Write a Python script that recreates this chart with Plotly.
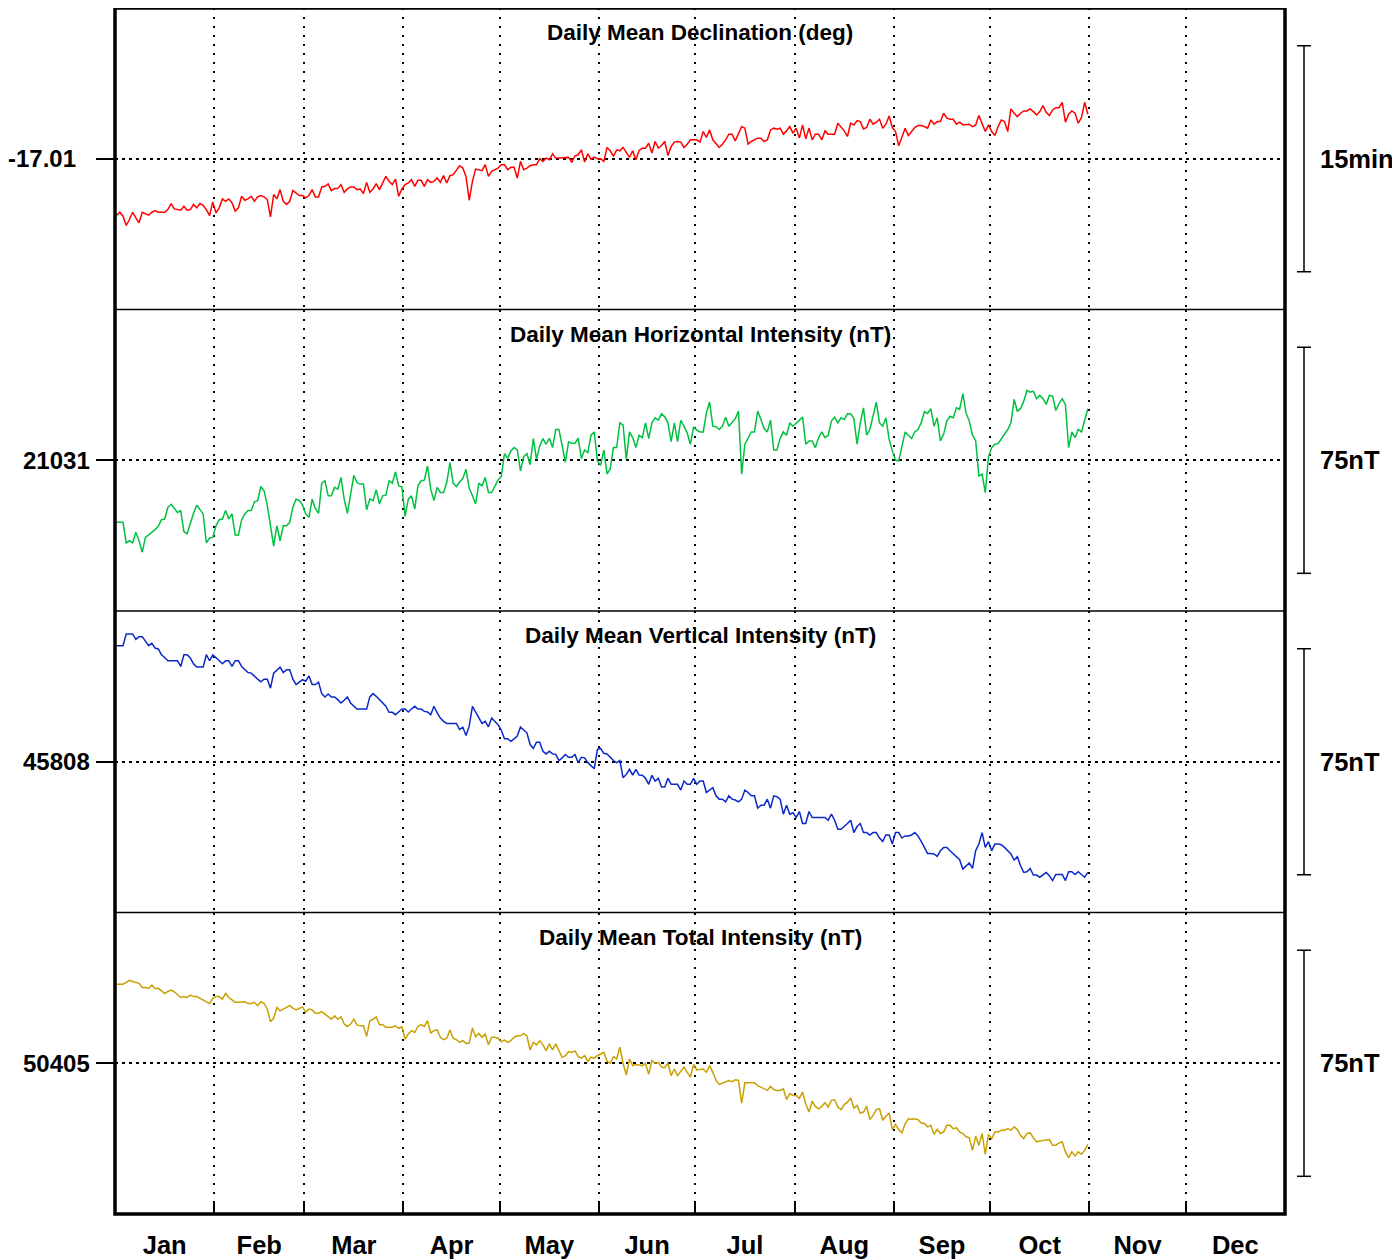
import pandas as pd
import plotly.graph_objects as go
from plotly.subplots import make_subplots

# ---------------- data (daily means, Jan 1 .. Oct 31) ----------------
D_VALUES = [
    -17.0728, -17.0691, -17.0735, -17.0838, -17.0772, -17.0691, -17.0753, -17.0808, -17.0691, -17.0706,
    -17.0724, -17.0691, -17.0673, -17.0691, -17.0691, -17.0691, -17.0662, -17.0595, -17.0654, -17.0662,
    -17.0669, -17.0625, -17.0669, -17.0662, -17.0606, -17.0643, -17.0595, -17.0614, -17.0662, -17.0728,
    -17.0577, -17.0698, -17.0643, -17.0544, -17.0570, -17.0544, -17.0588, -17.0680, -17.0643, -17.0515,
    -17.0559, -17.0544, -17.0515, -17.0570, -17.0522, -17.0507, -17.0522, -17.0551, -17.0742, -17.0496,
    -17.0544, -17.0441, -17.0570, -17.0606, -17.0570, -17.0452, -17.0478, -17.0507, -17.0507, -17.0533,
    -17.0507, -17.0441, -17.0522, -17.0522, -17.0412, -17.0405, -17.0379, -17.0452, -17.0430, -17.0430,
    -17.0386, -17.0471, -17.0434, -17.0412, -17.0412, -17.0441, -17.0434, -17.0485, -17.0361, -17.0471,
    -17.0434, -17.0375, -17.0441, -17.0368, -17.0295, -17.0350, -17.0386, -17.0324, -17.0515, -17.0434,
    -17.0386, -17.0368, -17.0331, -17.0405, -17.0339, -17.0339, -17.0405, -17.0331, -17.0361, -17.0350,
    -17.0313, -17.0361, -17.0287, -17.0368, -17.0287, -17.0276, -17.0221, -17.0177, -17.0203, -17.0295,
    -17.0559, -17.0350, -17.0214, -17.0221, -17.0232, -17.0166, -17.0295, -17.0239, -17.0221, -17.0203,
    -17.0166, -17.0166, -17.0221, -17.0195, -17.0195, -17.0313, -17.0129, -17.0221, -17.0203, -17.0177,
    -17.0166, -17.0166, -17.0100, -17.0129, -17.0093, -17.0111, -17.0045, -17.0093, -17.0093, -17.0093,
    -17.0093, -17.0085, -17.0140, -17.0067, -17.0056, -17.0001, -17.0137, -17.0045, -17.0104, -17.0082,
    -17.0100,
    -17.0100, -17.0129, -16.9975, -17.0012, -17.0074, -17.0001, -17.0012, -16.9975, -17.0038, -17.0085,
    -17.0012, -17.0111, -17.0008, -16.9983, -16.9983, -16.9928, -17.0038, -16.9909, -16.9983, -16.9953,
    -16.9909, -17.0063, -16.9964, -16.9916, -16.9909, -16.9916, -16.9975, -16.9939, -16.9891, -16.9891,
    -16.9891, -16.9916, -16.9799, -16.9865, -16.9781, -16.9891, -16.9939, -16.9975, -16.9939, -16.9891,
    -16.9828, -16.9828, -16.9902, -16.9828, -16.9744, -16.9762, -16.9939, -16.9909, -16.9891, -16.9872,
    -16.9872, -16.9909, -16.9891, -16.9781, -16.9762, -16.9773, -16.9762, -16.9828, -16.9792, -16.9744,
    -16.9817, -16.9762, -16.9872, -16.9726, -16.9880, -16.9762, -16.9891, -16.9828, -16.9828, -16.9891,
    -16.9792, -16.9828, -16.9828, -16.9828, -16.9707, -16.9744, -16.9792, -16.9854, -16.9707, -16.9726,
    -16.9678, -16.9689, -16.9770, -16.9755, -16.9663, -16.9718, -16.9696, -16.9663, -16.9762, -16.9718,
    -16.9627, -16.9755, -16.9799, -16.9957, -16.9865, -16.9762, -16.9843, -16.9799, -16.9755, -16.9733,
    -16.9733, -16.9744, -16.9762, -16.9671, -16.9718, -16.9689, -16.9689, -16.9597, -16.9652, -16.9663,
    -16.9663, -16.9718, -16.9696, -16.9726, -16.9718, -16.9718, -16.9744, -16.9726, -16.9623, -16.9707,
    -16.9799, -16.9726, -16.9799, -16.9843, -16.9744, -16.9671, -16.9689, -16.9799, -16.9549, -16.9597,
    -16.9634, -16.9597, -16.9572, -16.9572, -16.9549, -16.9579, -16.9616, -16.9579, -16.9513, -16.9586,
    -16.9623, -16.9561, -16.9535, -16.9535, -16.9476, -16.9696, -16.9608, -16.9572, -16.9597, -16.9707,
    -16.9645, -16.9476, -16.9608,
]

H_VALUES = [
    21010.4, 21010.4, 21010.4, 21003.6, 21004.3, 21003.6, 21007.1, 21004.3, 21000.5, 21005.4,
    21006.2, 21007.1, 21008.0, 21009.1, 21011.3, 21011.5, 21015.4, 21016.4, 21015.0, 21013.7,
    21014.3, 21007.3, 21006.6, 21010.4, 21013.4, 21016.1, 21014.5, 21013.2, 21003.6, 21005.2,
    21005.4, 21009.3, 21011.3, 21011.5, 21014.3, 21011.5, 21013.2, 21006.2, 21006.2, 21011.2,
    21013.2, 21014.3, 21014.3, 21017.2, 21017.6, 21022.3, 21020.9, 21016.1, 21009.3, 21002.5,
    21009.3, 21004.3, 21009.3, 21009.3, 21010.4, 21015.4, 21018.1, 21017.6, 21016.1, 21013.2,
    21012.1, 21018.1, 21015.0, 21013.4, 21023.4, 21024.2, 21019.2, 21019.2, 21022.0, 21021.4,
    21025.3, 21018.1, 21013.4, 21019.8, 21026.0, 21023.6, 21023.1, 21023.1, 21014.6, 21018.1,
    21017.6, 21021.2, 21016.5, 21019.2, 21019.4, 21024.2, 21023.4, 21027.1, 21022.5, 21022.2,
    21012.4, 21018.1, 21019.2, 21014.8, 21022.5, 21024.2, 21024.4, 21029.1, 21021.4, 21017.6,
    21022.0, 21020.3, 21020.3, 21023.6, 21030.2, 21023.4, 21022.3, 21023.8, 21024.9, 21028.0,
    21021.7, 21019.2, 21016.5, 21023.4, 21022.5, 21025.3, 21020.3, 21020.3, 21022.5, 21024.5,
    21025.6, 21033.2, 21031.6, 21034.1, 21035.2, 21034.4, 21027.5, 21032.2, 21033.2, 21029.5,
    21038.2, 21031.3, 21035.7, 21038.2, 21036.3, 21038.3, 21035.2, 21041.2, 21041.2, 21036.3,
    21030.4, 21037.1, 21036.6, 21036.6, 21038.3, 21031.6, 21034.4, 21033.5, 21039.3, 21040.4,
    21030.8,
    21029.3, 21034.4, 21026.4, 21028.2, 21035.2, 21035.2, 21043.4, 21042.7, 21031.3, 21040.4,
    21038.5, 21035.2, 21039.3, 21038.5, 21043.4, 21038.2, 21043.4, 21045.1, 21044.3, 21046.4,
    21045.4, 21043.4, 21037.2, 21043.4, 21037.2, 21044.2, 21042.3, 21040.1, 21036.3, 21042.1,
    21041.0, 21040.4, 21040.4, 21046.7, 21050.3, 21042.3, 21042.1, 21041.2, 21042.3, 21045.3,
    21042.3, 21043.4, 21044.8, 21047.3, 21026.4, 21036.3, 21038.5, 21040.4, 21040.4, 21047.3,
    21044.5, 21041.5, 21040.4, 21044.3, 21034.4, 21034.4, 21038.2, 21040.4, 21039.3, 21043.4,
    21042.3, 21043.4, 21044.5, 21045.3, 21036.3, 21037.4, 21037.4, 21035.2, 21038.5, 21040.4,
    21038.5, 21039.3, 21044.0, 21045.3, 21043.4, 21045.1, 21044.5, 21046.4, 21046.4, 21044.8,
    21036.3, 21043.4, 21048.4, 21039.3, 21041.2, 21045.6, 21050.3, 21043.4, 21042.3, 21045.1,
    21037.9, 21034.1, 21031.0, 21030.8, 21035.7, 21040.4, 21039.3, 21038.2, 21040.4, 21041.2,
    21043.4, 21047.1, 21046.5, 21048.1, 21042.3, 21045.1, 21037.4, 21039.6, 21044.0, 21045.6,
    21045.1, 21048.4, 21047.9, 21053.1, 21046.7, 21044.0, 21039.3, 21037.4, 21025.8, 21026.4,
    21020.3, 21032.2, 21035.2, 21036.3, 21036.5, 21038.2, 21039.9, 21041.2, 21043.4, 21051.2,
    21047.3, 21048.1, 21050.6, 21054.2, 21053.6, 21053.9, 21051.4, 21052.5, 21051.4, 21049.5,
    21052.5, 21052.3, 21047.5, 21049.8, 21051.4, 21049.5, 21035.2, 21040.4, 21038.5, 21041.2,
    21040.4, 21044.3, 21048.1,
]

Z_VALUES = [
    45846.5, 45846.5, 45846.5, 45850.4, 45850.4, 45850.4, 45848.6, 45849.5, 45849.5, 45847.9,
    45846.5, 45847.3, 45845.7, 45845.4, 45843.5, 45842.6, 45841.5, 45841.5, 45841.5, 45841.5,
    45839.6, 45843.5, 45843.5, 45842.4, 45840.5, 45839.4, 45839.4, 45839.4, 45843.5, 45841.5,
    45843.4, 45842.6, 45841.6, 45840.5, 45841.5, 45841.5, 45839.6, 45841.5, 45841.5, 45839.6,
    45838.5, 45837.6, 45837.4, 45836.3, 45835.4, 45834.5, 45835.4, 45835.4, 45832.4, 45837.4,
    45838.5, 45839.4, 45837.6, 45838.5, 45838.5, 45835.4, 45833.6, 45834.3, 45835.2, 45834.7,
    45836.5, 45833.6, 45833.6, 45834.4, 45830.6, 45829.5, 45830.5, 45829.5, 45829.5, 45828.6,
    45827.5, 45828.4, 45829.5, 45827.5, 45826.4, 45825.5, 45825.5, 45825.5, 45825.5, 45829.5,
    45830.6, 45829.7, 45828.6, 45827.5, 45826.4, 45824.4, 45824.4, 45823.6, 45824.7, 45825.5,
    45825.5, 45824.5, 45825.5, 45826.4, 45825.5, 45825.5, 45824.7, 45824.5, 45823.6, 45826.4,
    45824.2, 45822.5, 45821.4, 45820.7, 45820.7, 45820.7, 45820.7, 45818.7, 45819.5, 45816.7,
    45819.8, 45826.4, 45824.4, 45822.5, 45820.7, 45821.4, 45819.6, 45822.5, 45821.4, 45820.3,
    45818.5, 45815.6, 45815.6, 45814.8, 45815.6, 45816.5, 45819.5, 45818.5, 45817.6, 45813.7,
    45812.4, 45814.5, 45814.5, 45811.5, 45810.6, 45811.5, 45810.6, 45810.4, 45808.4, 45809.3,
    45810.4, 45809.5, 45809.5, 45810.4, 45807.7, 45809.5, 45809.3, 45807.7, 45806.6, 45805.7,
    45812.1,
    45812.4, 45810.8, 45810.6, 45809.5, 45808.4, 45807.7, 45808.4, 45802.7, 45803.8, 45805.5,
    45803.6, 45805.5, 45803.6, 45803.5, 45802.5, 45800.5, 45803.5, 45801.6, 45802.5, 45799.6,
    45799.6, 45802.5, 45800.5, 45800.5, 45800.5, 45798.6, 45801.6, 45800.5, 45800.5, 45802.5,
    45800.5, 45801.6, 45801.6, 45797.8, 45798.6, 45799.4, 45796.7, 45795.6, 45795.6, 45794.7,
    45796.7, 45795.6, 45795.3, 45794.7, 45795.6, 45798.6, 45797.8, 45796.7, 45796.7, 45792.6,
    45793.6, 45793.6, 45795.6, 45792.6, 45796.7, 45796.4, 45795.6, 45790.6, 45793.6, 45790.6,
    45791.1, 45789.5, 45791.5, 45787.5, 45787.5, 45791.5, 45789.5, 45789.5, 45789.5, 45789.5,
    45789.5, 45788.6, 45790.6, 45788.6, 45785.6, 45785.6, 45786.4, 45787.5, 45788.6, 45784.5,
    45786.5, 45787.5, 45784.5, 45784.5, 45783.7, 45784.5, 45784.5, 45782.7, 45781.6, 45783.7,
    45783.7, 45780.7, 45784.5, 45784.5, 45782.7, 45783.4, 45783.4, 45783.7, 45784.5, 45783.4,
    45781.6, 45779.6, 45777.6, 45777.6, 45777.4, 45776.6, 45778.5, 45779.6, 45779.6, 45778.5,
    45777.4, 45776.3, 45775.5, 45772.4, 45773.5, 45774.4, 45772.6, 45778.5, 45780.7, 45784.5,
    45779.6, 45781.5, 45778.5, 45780.7, 45780.7, 45780.5, 45779.6, 45778.5, 45777.4, 45775.4,
    45776.5, 45773.5, 45771.3, 45771.5, 45772.6, 45770.4, 45770.4, 45769.7, 45770.6, 45771.3,
    45770.2, 45768.6, 45770.6, 45770.6, 45770.6, 45768.6, 45771.5, 45771.5, 45770.6, 45771.5,
    45770.6, 45769.7, 45771.3,
]

F_VALUES = [
    50431.2, 50431.2, 50431.2, 50431.8, 50432.5, 50432.1, 50431.8, 50431.5, 50430.1, 50430.1,
    50429.8, 50430.9, 50429.8, 50429.9, 50429.0, 50428.1, 50428.8, 50429.3, 50428.7, 50427.9,
    50426.8, 50427.1, 50426.8, 50427.6, 50427.1, 50427.1, 50426.5, 50426.0, 50425.4, 50424.8,
    50426.5, 50427.1, 50427.1, 50426.3, 50428.2, 50426.8, 50426.0, 50425.2, 50425.2, 50425.2,
    50425.4, 50424.8, 50424.8, 50425.2, 50424.1, 50425.4, 50424.9, 50423.0, 50418.8, 50419.9,
    50423.5, 50422.4, 50423.0, 50423.7, 50424.1, 50423.3, 50422.7, 50423.2, 50423.7, 50421.9,
    50423.0, 50422.7, 50421.6, 50421.6, 50422.1, 50421.3, 50420.4, 50419.6, 50420.7, 50419.6,
    50420.4, 50418.0, 50417.2, 50418.0, 50419.6, 50417.7, 50417.4, 50417.4, 50413.9, 50419.1,
    50419.6, 50420.4, 50417.8, 50417.8, 50416.9, 50416.9, 50416.9, 50417.4, 50416.6, 50417.1,
    50413.0, 50414.7, 50415.8, 50415.2, 50417.2, 50417.8, 50417.2, 50419.1, 50415.0, 50415.8,
    50416.1, 50413.6, 50412.8, 50413.3, 50416.0, 50413.3, 50412.8, 50411.9, 50412.5, 50411.6,
    50411.7, 50416.7, 50413.8, 50414.9, 50413.6, 50414.7, 50411.1, 50413.6, 50413.6, 50413.3,
    50412.2, 50412.7, 50411.9, 50412.5, 50413.6, 50414.1, 50414.1, 50414.9, 50414.1, 50409.4,
    50411.9, 50411.1, 50412.5, 50411.1, 50409.2, 50411.4, 50409.4, 50411.4, 50408.9, 50407.0,
    50407.5, 50408.9, 50408.6, 50409.1, 50407.3, 50406.7, 50407.5, 50405.6, 50407.0, 50406.7,
    50407.5,
    50408.1, 50408.6, 50405.7, 50405.0, 50407.2, 50406.4, 50410.3, 50405.0, 50401.1, 50406.4,
    50404.2, 50404.6, 50404.4, 50404.2, 50405.0, 50401.3, 50405.9, 50405.0, 50405.3, 50403.7,
    50403.5, 50405.0, 50400.9, 50403.1, 50400.9, 50402.2, 50403.7, 50402.0, 50400.4, 50404.6,
    50402.8, 50402.9, 50403.1, 50402.0, 50404.2, 50402.0, 50399.3, 50398.0, 50398.4, 50398.7,
    50399.3, 50398.9, 50399.5, 50399.3, 50391.8, 50398.5, 50398.5, 50398.5, 50398.5, 50397.6,
    50397.1, 50396.5, 50396.0, 50397.3, 50396.3, 50396.0, 50396.0, 50396.5, 50393.0, 50394.9,
    50394.3, 50394.3, 50393.4, 50395.4, 50391.6, 50388.8, 50392.4, 50390.7, 50389.9, 50390.7,
    50391.9, 50390.5, 50392.7, 50392.9, 50390.5, 50389.6, 50391.3, 50392.1, 50393.5, 50390.1,
    50391.0, 50388.5, 50388.8, 50390.7, 50386.3, 50387.7, 50389.6, 50389.9, 50386.1, 50387.4,
    50388.5, 50383.0, 50384.7, 50383.0, 50381.9, 50385.0, 50386.6, 50386.4, 50386.6, 50386.3,
    50385.2, 50385.0, 50383.9, 50384.4, 50381.4, 50383.1, 50381.7, 50382.2, 50384.4, 50384.4,
    50383.3, 50383.6, 50382.2, 50381.7, 50380.6, 50380.3, 50376.1, 50380.8, 50377.8, 50381.7,
    50374.8, 50381.4, 50380.0, 50382.2, 50382.2, 50382.8, 50382.8, 50383.3, 50382.8, 50383.9,
    50383.0, 50381.1, 50380.0, 50381.7, 50381.9, 50380.3, 50378.9, 50379.2, 50379.4, 50379.4,
    50379.7, 50377.8, 50377.8, 50378.6, 50378.9, 50375.6, 50373.7, 50375.6, 50374.2, 50375.6,
    50374.8, 50376.1, 50378.1,
]

TITLES = ["Daily Mean Declination (deg)", "Daily Mean Horizontal Intensity (nT)",
          "Daily Mean Vertical Intensity (nT)", "Daily Mean Total Intensity (nT)"]
CENTERS = [-17.01, 21031, 45808, 50405]
CENTER_LABELS = ["-17.01", "21031", "45808", "50405"]
HALF_RANGES = [10 / 60, 50, 50, 50]          # half of panel height (deg / nT)
SCALE_BARS = [15 / 60, 75, 75, 75]           # length of scale bar (deg / nT)
SCALE_LABELS = ["15min", "75nT", "75nT", "75nT"]
COLORS = ["#ff0000", "#00c040", "#0a28c8", "#c8a000"]
SERIES = [D_VALUES, H_VALUES, Z_VALUES, F_VALUES]

YEAR_START = "2023-01-01"
YEAR_END = "2024-01-01"

FONT = "Liberation Sans, Arial, Helvetica, sans-serif"
# the page body adds an 8px offset, so the figure is sized to fill the rest
W, H = 1392, 1251
ML, MR, MT, MB = 107, 115, 0, 42
PW = W - ML - MR
PH = H - MT - MB
PAGE_PLOT_LEFT = 115


def px_x(page_px):
    return (page_px - PAGE_PLOT_LEFT) / PW


fig = make_subplots(rows=4, cols=1, shared_xaxes=True, vertical_spacing=0)

for i, vals in enumerate(SERIES):
    dates = pd.date_range("2023-01-01 12:00", periods=len(vals), freq="D")
    fig.add_trace(go.Scatter(x=dates, y=vals, mode="lines",
                             line=dict(color=COLORS[i], width=1.5),
                             showlegend=False, hoverinfo="skip"),
                  row=i + 1, col=1)

annotations = []
shapes = []
for i in range(4):
    r = i + 1
    c, h = CENTERS[i], HALF_RANGES[i]
    fig.update_yaxes(row=r, col=1, range=[c - h, c + h], fixedrange=True,
                     tickvals=[c], showticklabels=False,
                     ticks="outside", ticklen=18, tickwidth=1.5, tickcolor="black",
                     showgrid=True, gridcolor="black", gridwidth=1.5, griddash="3px,4px",
                     zeroline=False, showline=False)
    yref = "y" if r == 1 else f"y{r}"
    top = 1 - i * 0.25
    annotations.append(dict(text=TITLES[i], xref="paper", yref="paper", x=0.5,
                            y=top - 25 / PH, xanchor="center", yanchor="middle",
                            showarrow=False,
                            font=dict(size=22.5, color="black", family=FONT, weight="bold")))
    rx = 78 if i == 0 else 92
    annotations.append(dict(text=CENTER_LABELS[i], xref="paper", yref=yref, x=px_x(rx), y=c,
                            xanchor="right", yanchor="middle", showarrow=False,
                            font=dict(size=24, color="black", family=FONT, weight="bold")))
    annotations.append(dict(text=SCALE_LABELS[i], xref="paper", yref=yref, x=px_x(1318), y=c,
                            xanchor="left", yanchor="middle", showarrow=False,
                            font=dict(size=25.5, color="black", family=FONT, weight="bold")))
    b = SCALE_BARS[i] / 2
    line = dict(color="black", width=1.5)
    shapes.append(dict(type="line", xref="paper", yref=yref, x0=px_x(1304), x1=px_x(1304),
                       y0=c - b, y1=c + b, line=line))
    for yy in (c - b, c + b):
        shapes.append(dict(type="line", xref="paper", yref=yref, x0=px_x(1297), x1=px_x(1311),
                           y0=yy, y1=yy, line=line))

for yy in (0.25, 0.5, 0.75):
    shapes.append(dict(type="line", xref="paper", yref="paper", x0=0, x1=1, y0=yy, y1=yy,
                       line=dict(color="black", width=1.5)))
shapes.append(dict(type="rect", xref="paper", yref="paper", x0=0, x1=1, y0=0, y1=1,
                   line=dict(color="black", width=3.5)))

fig.update_xaxes(type="date", range=[YEAR_START, YEAR_END], fixedrange=True,
                 tick0=YEAR_START, dtick="M1",
                 showgrid=True, gridcolor="black", gridwidth=1.5, griddash="2px,7px",
                 zeroline=False, showline=False, showticklabels=False, ticks="")
fig.update_xaxes(row=4, col=1, showticklabels=True, tickformat="%b", ticklabelmode="period",
                 ticks="inside", ticklen=13, tickwidth=1.5, tickcolor="black",
                 ticklabelstandoff=13,
                 tickfont=dict(size=25.5, color="black", family=FONT, weight="bold"))

fig.update_layout(width=W, height=H, margin=dict(l=ML, r=MR, t=MT, b=MB),
                  paper_bgcolor="white", plot_bgcolor="white",
                  font=dict(family=FONT, color="black"),
                  annotations=annotations, shapes=shapes, showlegend=False)

fig.write_html("out.html")
